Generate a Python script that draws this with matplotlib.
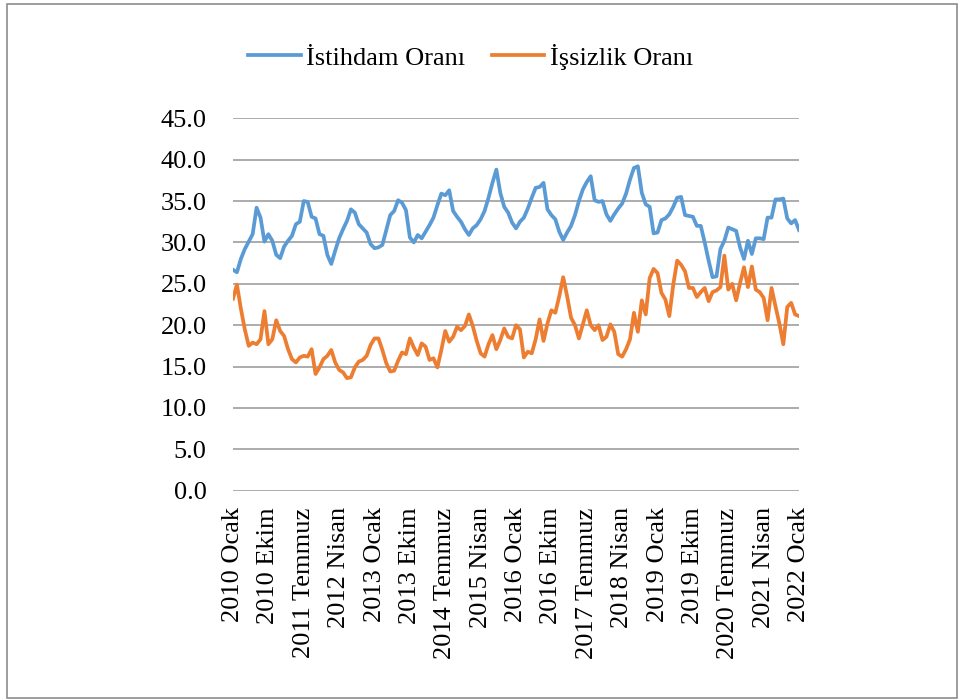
import matplotlib.pyplot as plt
from matplotlib.patches import Rectangle

# aylik veriler, 2010 Ocak - 2022 Ocak (145 ay)
istihdam = [26.7, 26.4, 28.0, 29.2, 30.1, 31.0, 34.2, 33.0, 30.1, 31.0,
            30.2, 28.5, 28.1, 29.5, 30.2, 30.8, 32.2, 32.5, 35.0, 34.9,
            33.1, 32.9, 31.0, 30.8, 28.5, 27.4, 29.0, 30.5, 31.6, 32.6,
            34.0, 33.6, 32.2, 31.7, 31.2, 29.8, 29.3, 29.4, 29.7, 31.5,
            33.3, 33.8, 35.1, 34.8, 33.9, 30.6, 30.0, 30.9, 30.5, 31.3,
            32.1, 33.0, 34.5, 35.9, 35.7, 36.3, 33.8, 33.1, 32.5, 31.6,
            30.9, 31.7, 32.1, 32.8, 33.8, 35.4, 37.2, 38.8, 36.0, 34.3,
            33.6, 32.4, 31.7, 32.5, 33.0, 34.1, 35.4, 36.6, 36.7, 37.2,
            34.0, 33.3, 32.8, 31.3, 30.3, 31.2, 32.0, 33.3, 35.0, 36.4,
            37.3, 38.0, 35.1, 34.9, 35.0, 33.4, 32.6, 33.4, 34.1, 34.7,
            35.9, 37.6, 39.0, 39.2, 36.0, 34.6, 34.3, 31.1, 31.2, 32.7,
            32.9, 33.4, 34.3, 35.4, 35.5, 33.3, 33.2, 33.1, 32.0, 32.0,
            30.0, 27.8, 25.8, 25.9, 29.2, 30.2, 31.8, 31.6, 31.4, 29.4,
            28.0, 30.2, 28.6, 30.5, 30.5, 30.4, 33.0, 33.0, 35.2, 35.2,
            35.3, 32.9, 32.3, 32.7, 31.5]

issizlik = [23.2, 24.9, 22.0, 19.5, 17.5, 17.9, 17.7, 18.3, 21.7, 17.7,
            18.3, 20.6, 19.3, 18.7, 17.1, 15.9, 15.5, 16.1, 16.3, 16.2,
            17.1, 14.1, 14.9, 15.9, 16.3, 17.0, 15.5, 14.6, 14.3, 13.6,
            13.7, 14.9, 15.6, 15.8, 16.3, 17.6, 18.4, 18.4, 17.0, 15.4,
            14.4, 14.5, 15.7, 16.7, 16.5, 18.4, 17.3, 16.4, 17.8, 17.4,
            15.8, 16.0, 14.9, 17.0, 19.3, 18.0, 18.6, 19.8, 19.4, 19.9,
            21.3, 19.9, 18.1, 16.6, 16.2, 17.7, 18.8, 17.1, 18.2, 19.6,
            18.6, 18.4, 20.0, 19.5, 16.1, 16.8, 16.6, 18.3, 20.7, 18.1,
            20.2, 21.8, 21.5, 23.5, 25.8, 23.5, 20.9, 20.0, 18.4, 20.1,
            21.8, 20.0, 19.4, 20.0, 18.2, 18.6, 20.1, 19.2, 16.5, 16.2,
            17.1, 18.3, 21.5, 19.2, 23.0, 21.3, 25.7, 26.8, 26.3, 23.9,
            23.1, 21.1, 24.9, 27.8, 27.3, 26.5, 24.5, 24.5, 23.4, 24.0,
            24.5, 22.9, 24.0, 24.2, 24.6, 28.4, 24.3, 25.0, 23.0, 25.1,
            27.0, 24.6, 27.1, 24.3, 24.0, 23.3, 20.6, 24.5, 22.3, 20.2,
            17.7, 22.2, 22.7, 21.3, 21.1]

etiketler = ["2010 Ocak", "2010 Ekim", "2011 Temmuz", "2012 Nisan", "2013 Ocak",
             "2013 Ekim", "2014 Temmuz", "2015 Nisan", "2016 Ocak", "2016 Ekim",
             "2017 Temmuz", "2018 Nisan", "2019 Ocak", "2019 Ekim", "2020 Temmuz",
             "2021 Nisan", "2022 Ocak"]
adim = 9

plt.rcParams['font.family'] = ['Liberation Serif', 'DejaVu Serif']

fig = plt.figure(figsize=(9.62, 7), dpi=100)
ax = fig.add_axes([0.2422, 0.299, 0.5884, 0.532])

x = list(range(len(istihdam)))
ax.plot(x, istihdam, color='#5B9BD5', lw=2.7, label='İstihdam Oranı', solid_joinstyle='round')
ax.plot(x, issizlik, color='#ED7D31', lw=2.7, label='İşsizlik Oranı', solid_joinstyle='round')

ax.set_xlim(0, 144)
ax.set_ylim(0, 45)
ax.set_yticks([i * 5 for i in range(10)])
ax.set_yticklabels([f"{i * 5:.1f}" for i in range(10)])
ax.set_xticks([i * adim for i in range(len(etiketler))])
ax.set_xticklabels(etiketler, rotation=90)
ax.tick_params(axis='both', length=0, labelsize=19, colors='#000000')
ax.tick_params(axis='y', pad=19)
ax.tick_params(axis='x', pad=12)

ax.grid(axis='y', color='#A6A6A6', lw=1.3)
ax.set_axisbelow(True)
for s in ax.spines.values():
    s.set_visible(False)

fig.legend(loc='center', bbox_to_anchor=(0.489, 0.919), ncol=2, frameon=False,
           fontsize=19, handlelength=2.0, handletextpad=0.2, columnspacing=1.0)

fig.patches.append(Rectangle((7 / 962, 2 / 700), 950 / 962, 694 / 700, transform=fig.transFigure,
                             fill=False, edgecolor='#8C8C8C', lw=1.2))

fig.savefig('out.png', dpi=100)
